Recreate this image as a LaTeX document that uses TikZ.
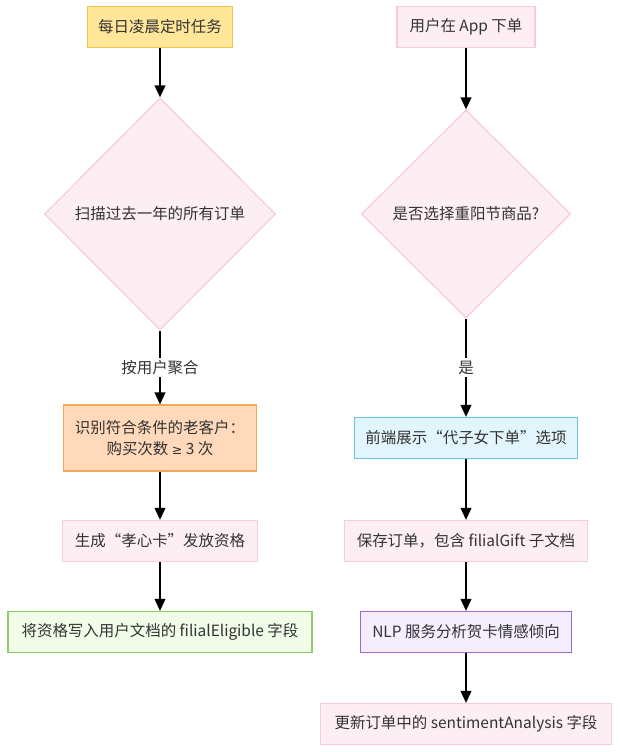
\documentclass[tikz,border=0pt]{standalone}
\usepackage{fontspec}
\setmainfont{Noto Sans CJK SC}
\newfontfamily\symfont{DejaVu Sans}
\usetikzlibrary{shapes.geometric,arrows.meta}
\definecolor{yfill}{HTML}{FFE699}
\definecolor{ydraw}{HTML}{F2C14E}
\definecolor{pfill}{HTML}{FDEEF3}
\definecolor{pdraw}{HTML}{F5CCDA}
\definecolor{ofill}{HTML}{FFD9BA}
\definecolor{odraw}{HTML}{F2A65A}
\definecolor{bfill}{HTML}{E3F5FC}
\definecolor{bdraw}{HTML}{6CC3E0}
\definecolor{gfill}{HTML}{F1FCE9}
\definecolor{gdraw}{HTML}{8ACC66}
\definecolor{vfill}{HTML}{F4EEFF}
\definecolor{vdraw}{HTML}{9A6ACC}
\definecolor{txt}{HTML}{333333}
\begin{document}
\begin{tikzpicture}[x=0.75pt,y=-0.75pt,
  every node/.style={font=\fontsize{11.6}{15.5}\selectfont, text=txt},
  box/.style={rectangle, draw, line width=0.9pt, inner sep=0pt, minimum height=41*0.75pt, align=center},
  dia/.style={diamond, draw=pdraw, fill=pfill, line width=0.9pt, inner sep=0pt, align=center},
  lbl/.style={fill=white, inner sep=2pt},
  arr/.style={-{Triangle[length=9pt,width=8pt]}, line width=1.4pt, black}]
\useasboundingbox (0,0) rectangle (620,752);
% left column
\node[box, draw=ydraw, fill=yfill, minimum width=145*0.75pt] (a1) at (160,27) {每日凌晨定时任务};
\node[dia, minimum width=231*0.75pt, minimum height=232*0.75pt] (a2) at (160,214) {扫描过去一年的所有订单};
\node[box, draw=odraw, fill=ofill, minimum width=193*0.75pt, minimum height=66*0.75pt] (a3) at (160,438) {识别符合条件的老客户：\\购买次数 {\symfont\fontsize{9.5}{12}\selectfont ≥} 3 次};
\node[box, draw=pdraw, fill=pfill, minimum width=195*0.75pt] (a4) at (160,541) {生成“孝心卡”发放资格};
\node[box, draw=gdraw, fill=gfill, minimum width=304*0.75pt] (a5) at (160,632) {将资格写入用户文档的 filialEligible 字段};
% right column
\node[box, draw=pdraw, fill=pfill, minimum width=138*0.75pt] (b1) at (466,27) {用户在 App 下单};
\node[dia, minimum width=209*0.75pt, minimum height=208*0.75pt] (b2) at (466,214) {是否选择重阳节商品?};
\node[box, draw=bdraw, fill=bfill, minimum width=223*0.75pt] (b3) at (466,438) {前端展示“代子女下单”选项};
\node[box, draw=pdraw, fill=pfill, minimum width=243*0.75pt] (b4) at (466,541) {保存订单，包含 filialGift 子文档};
\node[box, draw=vdraw, fill=vfill, minimum width=211*0.75pt] (b5) at (466,632) {NLP 服务分析贺卡情感倾向};
\node[box, draw=pdraw, fill=pfill, minimum width=291*0.75pt] (b6) at (466,724) {更新订单中的 sentimentAnalysis 字段};
% edges
\draw[arr] (a1) -- (a2);
\draw[arr] (a2) -- node[lbl] {按用户聚合} (a3);
\draw[arr] (a3) -- (a4);
\draw[arr] (a4) -- (a5);
\draw[arr] (b1) -- (b2);
\draw[arr] (b2) -- node[lbl] {是} (b3);
\draw[arr] (b3) -- (b4);
\draw[arr] (b4) -- (b5);
\draw[arr] (b5) -- (b6);
\end{tikzpicture}
\end{document}
